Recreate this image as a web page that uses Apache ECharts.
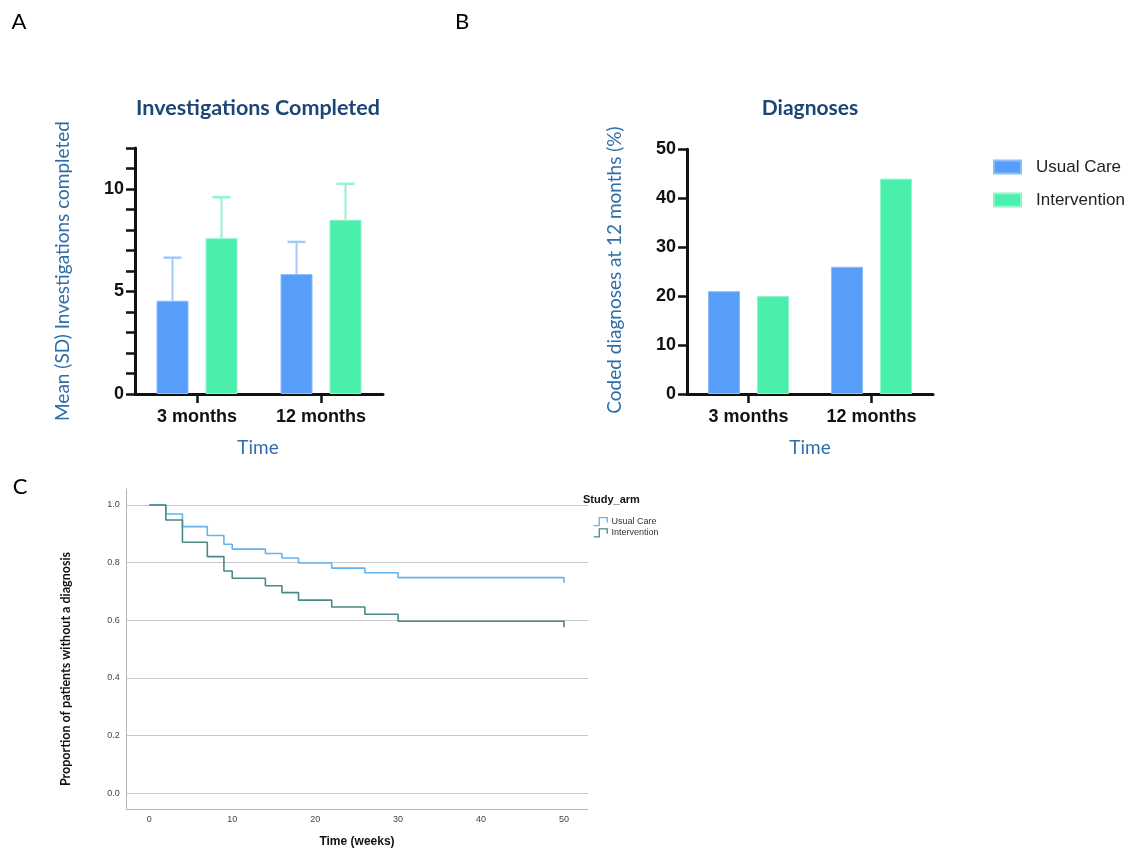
<!DOCTYPE html>
<html><head><meta charset="utf-8">
<script src="https://cdn.jsdelivr.net/npm/echarts@6/dist/echarts.min.js"></script>
<style>html,body{margin:0;padding:0;background:#fff}#c{width:1135px;height:850px}</style>
</head><body><div id="c"></div>
<script>
// ---------- data ----------
const categories = ['3 months', '12 months'];
const invUsualMean = [4.55, 5.85];
const invUsualSD = [2.1, 1.57];
const invInterMean = [7.6, 8.5];
const invInterSD = [2.0, 1.75];
const diagUsual = [21, 26];
const diagInter = [20, 44];
const kmWeeks = [0, 2, 4, 7, 9, 10, 14, 16, 18, 22, 26, 30, 50, 50];
const kmUsual = [1.0, 0.969, 0.925, 0.894, 0.864, 0.847, 0.832, 0.816, 0.799, 0.781, 0.765, 0.748, 0.748, 0.73];
const kmInter = [1.0, 0.948, 0.871, 0.821, 0.771, 0.746, 0.720, 0.696, 0.670, 0.646, 0.621, 0.597, 0.597, 0.576];
const kmYTicks = [0, 0.2, 0.4, 0.6, 0.8, 1.0];
const kmXTicks = [0, 10, 20, 30, 40, 50];

// ---------- styles ----------
const BLUE = '#579dfa', GREEN = '#49efab';
const BLUE_ERR = '#a3c9fc', GREEN_ERR = '#93f3ca';
const KM_BLUE = '#62b3ee', KM_GREEN = '#4a8985';
const TITLE_C = '#1b4676', NAME_C = '#2f6ea8';
const BAR_W = 32, BAR_GAP = 17;
const OFF = (BAR_W + BAR_GAP) / 2;

const chart = echarts.init(document.getElementById('c'), null, {renderer: 'canvas'});

function errSeries(means, sds, color, offset) {
  return {
    type: 'custom', xAxisIndex: 0, yAxisIndex: 0, silent: true, z: 1,
    data: means.map((m, i) => [i, m, sds[i]]),
    encode: {x: 0, y: 1},
    renderItem: function (params, api) {
      const i = api.value(0), m = api.value(1), s = api.value(2);
      const p0 = api.coord([i, m]);
      const p1 = api.coord([i, m + s]);
      const x = p0[0] + offset;
      return {
        type: 'group',
        children: [
          {type: 'line', shape: {x1: x, y1: p0[1], x2: x, y2: p1[1]}, style: {stroke: color, lineWidth: 2}},
          {type: 'line', shape: {x1: x - 9, y1: p1[1], x2: x + 9, y2: p1[1]}, style: {stroke: color, lineWidth: 2.5}}
        ]
      };
    }
  };
}

const barAxisLine = {show: true, lineStyle: {color: '#111', width: 3}};
const barTick = {show: true, length: 9, lineStyle: {color: '#111', width: 2.5}};
const barLabel = {fontFamily: 'Liberation Sans, Arial', fontWeight: 'bold', fontSize: 18, color: '#111'};

function bar(name, data, color, border, xi) {
  return {
    name: name, type: 'bar', xAxisIndex: xi, yAxisIndex: xi, data: data,
    barWidth: BAR_W, barGap: (BAR_GAP / BAR_W * 100).toFixed(1) + '%', z: 2,
    itemStyle: {color: color, borderColor: border, borderWidth: 1}
  };
}

const txt = (text, x, y, font, fill, rot) => ({
  type: 'text', x: x, y: y, rotation: rot || 0, silent: true,
  style: {text: text, font: font, fill: fill, align: 'center', verticalAlign: 'middle'}
});

const stepIcon = 'path://M0,10 L7,10 L7,0 L17,0 L17,6';

const option = {
  backgroundColor: '#fff',
  animation: false,
  grid: [
    {left: 135, top: 148, width: 248, height: 246},
    {left: 687, top: 149.3, width: 246, height: 244.7},
    {left: 126.7, top: 489, width: 461.3, height: 320.3}
  ],
  xAxis: [
    {gridIndex: 0, type: 'category', data: categories, axisLine: barAxisLine,
     axisTick: Object.assign({alignWithLabel: true}, barTick),
     axisLabel: Object.assign({margin: 14}, barLabel)},
    {gridIndex: 1, type: 'category', data: categories, axisLine: barAxisLine,
     axisTick: Object.assign({alignWithLabel: true}, barTick),
     axisLabel: Object.assign({margin: 14}, barLabel)},
    {gridIndex: 2, type: 'value', min: -2.72, max: 52.9,
     axisLine: {show: true, onZero: false, lineStyle: {color: '#b5b5b5', width: 1}},
     axisTick: {show: false, customValues: kmXTicks},
     axisLabel: {customValues: kmXTicks, fontFamily: 'Liberation Sans, Arial', fontSize: 9, color: '#444', margin: 6},
     splitLine: {show: false}}
  ],
  yAxis: [
    {gridIndex: 0, type: 'value', min: 0, max: 12, interval: 1, axisLine: barAxisLine, axisTick: barTick,
     axisLabel: Object.assign({margin: 11, formatter: v => (v % 5 === 0 ? String(v) : '')}, barLabel),
     splitLine: {show: false}},
    {gridIndex: 1, type: 'value', min: 0, max: 50, interval: 10, axisLine: barAxisLine, axisTick: barTick,
     axisLabel: Object.assign({margin: 11}, barLabel), splitLine: {show: false}},
    {gridIndex: 2, type: 'value', min: -0.0555, max: 1.0555,
     axisLine: {show: true, onZero: false, lineStyle: {color: '#b5b5b5', width: 1}},
     axisTick: {show: false, customValues: kmYTicks},
     axisLabel: {customValues: kmYTicks, formatter: v => v.toFixed(1), fontFamily: 'Liberation Sans, Arial', fontSize: 9, color: '#444', margin: 7},
     splitLine: {show: false}}
  ],
  legend: [
    {left: 988, top: 152, orient: 'vertical', itemWidth: 27, itemHeight: 13, itemGap: 13, icon: 'rect',
     data: ['Usual Care', 'Intervention'], selectedMode: false,
     textStyle: {fontFamily: 'Liberation Sans, Arial', fontSize: 17, color: '#222', padding: [0, 0, 0, 10], lineHeight: 20}},
    {left: 588, top: 512, orient: 'vertical', itemWidth: 18, itemHeight: 8, itemGap: 2, selectedMode: false,
     formatter: n => n.replace('KM ', ''),
     textStyle: {fontFamily: 'Liberation Sans, Arial', fontSize: 9, color: '#333', padding: [0, 0, 0, -3]},
     data: [
       {name: 'KM Usual Care', icon: stepIcon, itemStyle: {color: 'transparent', borderColor: KM_BLUE, borderWidth: 1.3}, lineStyle: {opacity: 0, width: 0}},
       {name: 'KM Intervention', icon: stepIcon, itemStyle: {color: 'transparent', borderColor: KM_GREEN, borderWidth: 1.3}, lineStyle: {opacity: 0, width: 0}}
     ]}
  ],
  graphic: [
    txt('A', 19, 22, '22px Lato', '#000'),
    txt('B', 462, 22, '22px Lato', '#000'),
    txt('C', 20, 487, '22px Lato', '#000'),
    txt('Investigations Completed', 258, 108, 'bold 21.5px Lato', TITLE_C),
    txt('Diagnoses', 810, 108, 'bold 21px Lato', TITLE_C),
    txt('Mean (SD) Investigations completed', 63, 271, '19px Lato', NAME_C, Math.PI / 2),
    txt('Coded diagnoses at 12 months (%)', 615, 270, '19px Lato', NAME_C, Math.PI / 2),
    txt('Time', 258, 448, '19px Lato', NAME_C),
    txt('Time', 810, 448, '19px Lato', NAME_C),
    txt('Proportion of patients without a diagnosis', 66, 669, 'bold 12.5px Lato', '#111', Math.PI / 2),
    txt('Time (weeks)', 357, 842, 'bold 12px "Liberation Sans", Arial', '#111'),
    {type: 'text', x: 583, y: 500, silent: true,
     style: {text: 'Study_arm', font: 'bold 11px "Liberation Sans", Arial', fill: '#111', align: 'left', verticalAlign: 'middle'}}
  ],
  series: [
    errSeries(invUsualMean, invUsualSD, BLUE_ERR, -OFF),
    errSeries(invInterMean, invInterSD, GREEN_ERR, OFF),
    bar('Usual Care', invUsualMean, BLUE, '#8dbcfc', 0),
    bar('Intervention', invInterMean, GREEN, '#8ff5cb', 0),
    bar('Usual Care', diagUsual, BLUE, '#8dbcfc', 1),
    bar('Intervention', diagInter, GREEN, '#8ff5cb', 1),
    {name: 'KM Usual Care', type: 'line', xAxisIndex: 2, yAxisIndex: 2, step: 'end', showSymbol: false, symbol: 'none',
     data: kmWeeks.map((w, i) => [w, kmUsual[i]]), lineStyle: {color: KM_BLUE, width: 1.6}, itemStyle: {color: KM_BLUE}, z: 3,
     markLine: {silent: true, symbol: 'none', label: {show: false}, z: 1,
       lineStyle: {color: '#c9c9c9', type: 'solid', width: 1},
       data: kmYTicks.map(v => ({yAxis: v}))}},
    {name: 'KM Intervention', type: 'line', xAxisIndex: 2, yAxisIndex: 2, step: 'end', showSymbol: false, symbol: 'none',
     data: kmWeeks.map((w, i) => [w, kmInter[i]]), lineStyle: {color: KM_GREEN, width: 1.6}, itemStyle: {color: KM_GREEN}, z: 4}
  ]
};
chart.setOption(option);
</script>
</body></html>
